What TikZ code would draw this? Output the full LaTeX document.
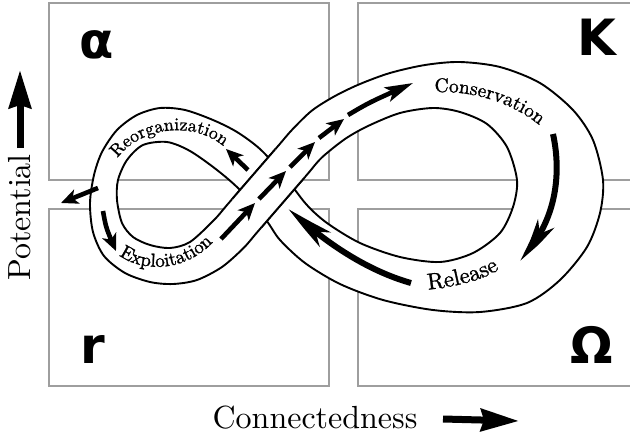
\documentclass[tikz,border=0pt]{standalone}
\usepackage{fontspec}
\setmainfont{lmroman10-regular}[Extension=.otf]
\newfontfamily\bandfont{lmroman10-regular}[Extension=.otf, FakeBold=1.2]
\newfontfamily\greeksans{DejaVu Sans}
\usetikzlibrary{arrows.meta,bending,decorations.text}
\begin{document}
\begin{tikzpicture}[x=1pt,y=-1pt,
  boxline/.style={draw=black!38, line width=1.1pt},
  bandedge/.style={draw=black, line width=1.9pt},
  smallflow/.style={line width=4.6pt, -{Stealth[length=17pt,width=15pt,inset=4.5pt]}},
  lastflow/.style={line width=4.6pt, -{Stealth[length=28pt,width=15pt,inset=6pt]}},
  bigflow/.style={line width=6pt, -{Stealth[length=46pt,width=18pt,inset=12pt,bend]}},
  axisarrow/.style={line width=7pt, -{Stealth[length=38pt,width=22pt,inset=3pt]}},
  quadlabel/.style={font=\greeksans\bfseries\fontsize{50}{50}\selectfont, inner sep=0pt, anchor=base west},
  axislabel/.style={font=\fontsize{32}{32}\selectfont, inner sep=0pt},
]
\useasboundingbox (0,0) rectangle (630,434);
% quadrant boxes
\draw[boxline] (49,3) rectangle (329,180);
\draw[boxline] (631,3) -- (358,3) -- (358,180) -- (631,180);
\draw[boxline] (49,209) rectangle (329,386);
\draw[boxline] (631,209) -- (358,209) -- (358,386) -- (631,386);
% quadrant labels
\node[quadlabel] (alpha) at (79,58) {α};
\node[quadlabel] (kappa) at (577,55) {K};
\node[quadlabel] (rr) at (80,363) {r};
\node[quadlabel] (omega) at (570,363) {Ω};
% the band (two edges of the figure eight)
\path[fill=white, bandedge, even odd rule]
 plot[smooth cycle, tension=0.5] coordinates {
 (243.34,248.24) (256.42,233.12) (269.5,218) (282.58,202.88) (295.66,187.76) (308.74,172.64) (321.82,157.52)
 (345,139) (368,126) (400,113) (433,108) (460,112) (487,124) (507,147) (517,180) (513,207) (500,233)
 (473,253) (440,262) (400,257) (360,243) (327,223) (306,204) (283,174) (260,149) (237,132) (213,120)
 (185,110) (160,108) (137,115) (117,130) (102,152) (94,175) (90,203) (93,232) (104,256) (125,273)
 (150,282) (173,284) (197,280) (222,267)}
 plot[smooth cycle, tension=0.5] coordinates {
 (133,237) (150,245) (170,248) (190,242) (213.84,220.24) (226.92,205.12) (240,190) (253.08,174.88)
 (266.16,159.76) (279.24,144.64) (292.32,129.52) (312,110.5) (335,96) (360,84) (390,73) (425,65)
 (460,62) (500,67) (540,83) (573,110) (593,140) (603,180) (600,213) (587,247) (560,280) (527,303)
 (480,312) (433,310) (383,300) (340,284) (305,263) (280,240) (266,220) (240,190) (217,170) (190,151)
 (167,142) (143,145) (127,160) (118,180) (117,200) (122,223)};
% over-strand patch at the crossing
\coordinate (ua) at (232.15,199.07);
\coordinate (ub) at (275.32,149.18);
\coordinate (da) at (261.65,227.07);
\coordinate (db) at (304.82,177.18);
\fill[white] (ua) -- (ub) -- (db) -- (da) -- cycle;
\draw[bandedge] (ua) -- (ub);
\draw[bandedge] (da) -- (db);
% phase labels
\path[decorate, decoration={text effects along path, text={Reorganization}, text align=center,
  text effects/.cd, characters={text along path, font=\bandfont\fontsize{18}{18}\selectfont}}]
  (111,170) .. controls (127,128) and (199,113) .. (233,156);
\path[decorate, decoration={text effects along path, text={Exploitation}, text align=center,
  text effects/.cd, characters={text along path, font=\bandfont\fontsize{19}{19}\selectfont}}]
  (110,246) .. controls (130,274) and (190,278) .. (221,232);
\path[decorate, decoration={text effects along path, text={Conservation}, text align=center,
  text effects/.cd, characters={text along path, font=\bandfont\fontsize{19.5}{19.5}\selectfont}}]
  (423,93) .. controls (466,88) and (516,101) .. (548,133);
\path[decorate, decoration={text effects along path, text={Release}, text align=center,
  text effects/.cd, characters={text along path, font=\bandfont\fontsize{23}{23}\selectfont}}]
  (411,291) .. controls (446,289) and (490,282) .. (513,259);
% flow arrows
\coordinate (reoA) at (248,170); \coordinate (reoB) at (226,149);
\draw[smallflow] (reoA) -- (reoB);
\coordinate (escA) at (98,188); \coordinate (escB) at (61,203);
\draw[smallflow] (escA) -- (escB);
\coordinate (dnA) at (103,211); \coordinate (dnB) at (116,251);
\draw[smallflow] (dnA) .. controls (106,228) .. (dnB);
\draw[smallflow] (221,239) -- (255,203);
\draw[smallflow] (259,199) -- (286,171);
\draw[smallflow] (290,167) -- (315,142);
\draw[smallflow] (319,138) -- (344,119);
\draw[lastflow] (348,115) .. controls (370,102) .. (413,83);
\draw[bigflow] (553,134) .. controls (563,180) and (553,228) .. (519,260);
\draw[bigflow] (411,283) .. controls (365,270) and (322,240) .. (289,209);
% axes
\node[axislabel, rotate=90] (pot) at (20,217.5) {Potential};
\node[axislabel, anchor=base] (con) at (315,428) {Connectedness};
\coordinate (potA) at (20,148); \coordinate (potB) at (20,70);
\draw[axisarrow] (potA) -- (potB);
\coordinate (conA) at (443,419); \coordinate (conB) at (519,421);
\draw[axisarrow] (conA) -- (conB);
\end{tikzpicture}
\end{document}
